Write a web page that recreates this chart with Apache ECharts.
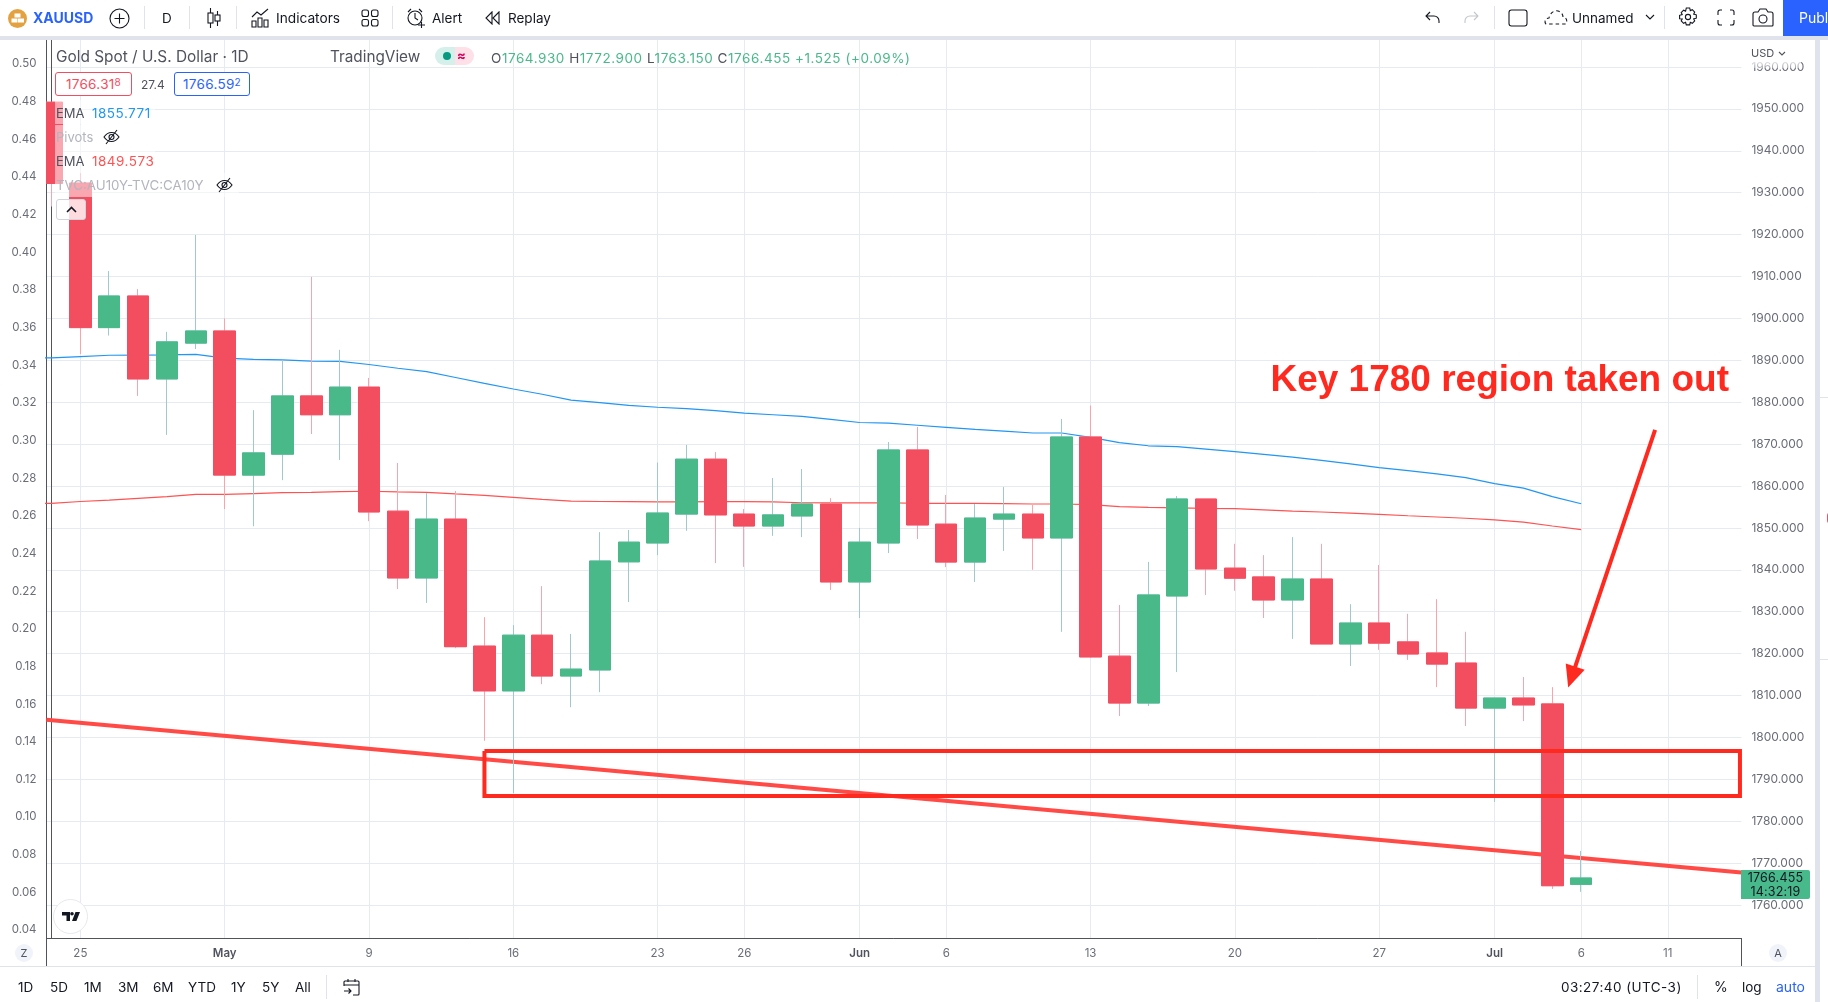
<!DOCTYPE html>
<html>
<head>
<meta charset="utf-8">
<title>XAUUSD</title>
<script src="https://cdn.jsdelivr.net/npm/echarts@6/dist/echarts.min.js"></script>
<style>
  html, body { margin: 0; padding: 0; background: #fff; overflow: hidden; }
  body { width: 1828px; height: 1002px; position: relative; font-family: Inter, "Noto Sans", sans-serif; color: #131722; }
  #chart { position: absolute; left: 0; top: 0; width: 1828px; height: 1002px; }
  .t { position: absolute; white-space: nowrap; transform: translateY(-50%); font-size: 13.5px; line-height: 16px; }
  .b { position: absolute; }
  .sep { position: absolute; width: 1px; background: #e0e3eb; }
  .ic { position: absolute; fill: none; stroke: #131722; stroke-width: 1.1; }
  .row { position: absolute; left: 55px; height: 24px; background: rgba(255,255,255,.5); }
  .g { color: #49b98a; }
  .v { font-size: 13.5px; letter-spacing: .5px; }
  sup { font-size: 10px; line-height: 0; vertical-align: 3px; }
</style>
</head>
<body>
<div id="chart"></div>

<!-- the first candle is cut off by the left axis -->
<div class="b" style="left:38px;top:100px;width:8px;height:86px;background:#fff"></div>

<!-- top toolbar -->
<div class="b" style="left:0;top:36px;width:1828px;height:4px;background:#e0e3eb"></div>
<svg class="ic" style="left:8px;top:9px;stroke:none" width="19" height="19"><circle cx="9.5" cy="9.5" r="9.5" fill="#e3a23f"/><rect x="6.5" y="4.5" width="6" height="4" fill="#fff"/><rect x="3.5" y="9.5" width="6" height="4" fill="#fff"/><rect x="10" y="9.5" width="6" height="4" fill="#fff"/></svg>
<div class="t" style="left:33px;top:18px;color:#2962ff;font-weight:700;font-size:14px">XAUUSD</div>
<svg class="ic" style="left:109px;top:8px" width="21" height="21"><circle cx="10.5" cy="10.5" r="9.5"/><path d="M10.5 5.5v10M5.5 10.5h10"/></svg>
<div class="sep" style="left:144px;top:6px;height:23px"></div>
<div class="t" style="left:162px;top:18px">D</div>
<div class="sep" style="left:189px;top:6px;height:23px"></div>
<svg class="ic" style="left:206px;top:8px" width="16" height="20"><path d="M4.5 0v20M11.5 3v15"/><rect x="2" y="5" width="5" height="10" fill="#fff"/><rect x="9" y="7" width="5" height="6" fill="#fff"/></svg>
<div class="sep" style="left:236px;top:6px;height:23px"></div>
<svg class="ic" style="left:251px;top:8px" width="18" height="20"><path d="M1 9l5-5 4 3 7-6M1 19v-6h4v6zM7 19v-9h4v9zM13 19v-7h4v7z"/></svg>
<div class="t" style="left:276px;top:18px;font-size:13.7px">Indicators</div>
<svg class="ic" style="left:361px;top:9px" width="18" height="18"><rect x="1" y="1" width="6.5" height="6.5" rx="2"/><rect x="10.5" y="1" width="6.5" height="6.5" rx="2"/><rect x="1" y="10.5" width="6.5" height="6.5" rx="2"/><rect x="10.5" y="10.5" width="6.5" height="6.5" rx="2"/></svg>
<div class="sep" style="left:392px;top:6px;height:23px"></div>
<svg class="ic" style="left:406px;top:7px" width="20" height="22"><circle cx="9" cy="11" r="7"/><path d="M9 6v5l3 2M2 5l3-3M16 5l-3-3M12 18h7M15.5 15v6"/></svg>
<div class="t" style="left:432px;top:18px">Alert</div>
<svg class="ic" style="left:485px;top:11px" width="15" height="14"><path d="M7 1L1 7l6 6zM14 1L8 7l6 6z"/></svg>
<div class="t" style="left:508px;top:18px">Replay</div>
<svg class="ic" style="left:1425px;top:11px" width="15" height="13"><path d="M5 1L1 5l4 4M1 5h8a5 5 0 0 1 5 5v2"/></svg>
<svg class="ic" style="left:1464px;top:11px;stroke:#c4c6cc" width="15" height="13"><path d="M10 1l4 4-4 4M14 5H6a5 5 0 0 0-5 5v2"/></svg>
<div class="sep" style="left:1494px;top:6px;height:23px"></div>
<svg class="ic" style="left:1508px;top:9px" width="20" height="18"><rect x="1" y="1" width="18" height="16" rx="2.5"/></svg>
<svg class="ic" style="left:1544px;top:9px" width="24" height="17"><path d="M2 15c-2-2-1-6 3-6 1-5 5-8 9-7 3 1 5 3 5 6 3 0 5 4 3 7z" stroke-dasharray="3.5 3"/></svg>
<div class="t" style="left:1572px;top:18px">Unnamed</div>
<svg class="ic" style="left:1645px;top:14px" width="10" height="7"><path d="M1 1l4 4 4-4"/></svg>
<div class="sep" style="left:1664px;top:6px;height:23px"></div>
<svg class="ic" style="left:1678px;top:7px" width="20" height="20"><circle cx="10" cy="10" r="2.6"/><path d="M8.3 1h3.4l.6 2.6 2-.9 2.4 2.4-1 2 2.6.7v3.4l-2.6.7 1 2-2.4 2.4-2-1-.6 2.6H8.3l-.7-2.6-2 1-2.4-2.4 1-2L1.600 11.700V8.300l2.600-.7-1-2 2.400-2.400 2 .9z"/></svg>
<svg class="ic" style="left:1717px;top:9px" width="18" height="17"><path d="M1 6V3a2 2 0 0 1 2-2h2M13 1h2a2 2 0 0 1 2 2v3M17 11v3a2 2 0 0 1-2 2h-2M5 16H3a2 2 0 0 1-2-2v-3"/></svg>
<svg class="ic" style="left:1752px;top:8px" width="22" height="19"><path d="M1 17V6a2 2 0 0 1 2-2h3l2-3h6l2 3h3a2 2 0 0 1 2 2v11a1 1 0 0 1-1 1H2a1 1 0 0 1-1-1z"/><circle cx="11" cy="11" r="4"/></svg>
<div class="b" style="left:1783px;top:0;width:45px;height:36px;background:#2962ff;overflow:hidden"><div class="t" style="left:16px;top:18px;color:#fff;font-size:14px">Publish</div></div>

<!-- far right panel -->
<div class="b" style="left:1815px;top:36px;width:5px;height:966px;background:#e0e3eb"></div>
<div class="b" style="left:1820px;top:397px;width:8px;height:1px;background:#e0e3eb"></div>
<div class="b" style="left:1820px;top:659px;width:8px;height:1px;background:#e0e3eb"></div>
<div class="b" style="left:1827px;top:512px;width:8px;height:12px;border-radius:6px;background:#f24e60"></div>

<!-- legend -->
<div class="row" style="top:100px;width:100px"></div>
<div class="row" style="top:125px;width:70px"></div>
<div class="row" style="top:149px;width:100px"></div>
<div class="row" style="top:173px;width:184px"></div>
<div class="t" style="left:56px;top:57px;font-size:15.4px;color:#50535e">Gold Spot / U.S. Dollar · 1D</div>
<div class="t" style="left:330px;top:57px;font-size:15.3px;color:#50535e">TradingView</div>
<div class="b" style="left:435px;top:47px;width:20px;height:18px;border-radius:9px 0 0 9px;background:#d5f0ea"><div class="b" style="left:8px;top:5px;width:8px;height:8px;border-radius:4px;background:#089981"></div></div>
<div class="b" style="left:455px;top:47px;width:19px;height:18px;border-radius:0 9px 9px 0;background:#fde0e8;color:#d6005a;font-size:13px;line-height:17px;font-weight:700;text-indent:2px">≈</div>
<div class="t" style="left:491px;top:58px;color:#50535e;letter-spacing:.55px">O<span class="g">1764.930</span> H<span class="g">1772.900</span> L<span class="g">1763.150</span> C<span class="g">1766.455</span> <span class="g">+1.525 (+0.09%)</span></div>
<div class="b" style="left:55px;top:72px;width:75px;height:22px;border:1px solid #f24e60;border-radius:3px;background:#fff;color:#f24e60;font-size:13.5px;letter-spacing:.3px;line-height:22px;text-align:center">1766.31<sup>8</sup></div>
<div class="t" style="left:141px;top:85px;font-size:12px;color:#50535e">27.4</div>
<div class="b" style="left:174px;top:72px;width:74px;height:22px;border:1px solid #2962ff;border-radius:3px;background:#fff;color:#2962ff;font-size:13.5px;letter-spacing:.3px;line-height:22px;text-align:center">1766.59<sup>2</sup></div>
<div class="t" style="left:56px;top:113px;color:#50535e;font-size:13px">EMA</div>
<div class="t v" style="left:92px;top:113px;color:#2196f3">1855.771</div>
<div class="t" style="left:56px;top:137px;color:#b2b5be;font-size:13px">Pivots</div>
<svg class="ic" style="left:103px;top:129px" width="17" height="16"><path d="M1 8c4-6 11-6 15 0-4 6-11 6-15 0zM3 15L14 1"/><circle cx="8.500" cy="8" r="2.500"/></svg>
<div class="t" style="left:56px;top:161px;color:#50535e;font-size:13px">EMA</div>
<div class="t v" style="left:92px;top:161px;color:#ff5252">1849.573</div>
<div class="t" style="left:56px;top:185px;color:#b2b5be;font-size:13.3px">TVC:AU10Y-TVC:CA10Y</div>
<svg class="ic" style="left:216px;top:177px" width="17" height="16"><path d="M1 8c4-6 11-6 15 0-4 6-11 6-15 0zM3 15L14 1"/><circle cx="8.500" cy="8" r="2.500"/></svg>
<div class="b" style="left:56px;top:199px;width:28px;height:19px;border:1px solid #d1d4dc;border-radius:3px;background:rgba(255,255,255,.8)"><svg class="ic" style="left:9px;top:6px;stroke-width:1.6" width="11" height="7"><path d="M1 6l4.500-4.500L10 6"/></svg></div>

<!-- axis furniture -->
<div class="b" style="left:1751px;top:46px;width:50px;height:22px;background:linear-gradient(#fff 60%,rgba(255,255,255,.35))"></div>
<div class="t" style="left:1751px;top:53px;font-size:11px;color:#50535e">USD</div>
<svg class="ic" style="left:1778px;top:51px;stroke:#50535e" width="8" height="5"><path d="M1 1l3 3 3-3"/></svg>
<svg class="b" style="left:53px;top:899px" width="35" height="35"><circle cx="17.500" cy="17.500" r="17" fill="#fff" stroke="#e6e8ec"/><path d="M9 13h8v9h-3.500v-5.500H9zM19 13a1.800 1.800 0 1 1 0 3.600 1.800 1.800 0 0 1 0-3.600zM22.500 13H27l-3.600 9H19z" fill="#131722"/></svg>
<div class="b" style="left:46px;top:938px;width:1px;height:28px;background:#50535e"></div>
<div class="b" style="left:1741px;top:938px;width:1px;height:28px;background:#50535e"></div>
<div class="b" style="left:15px;top:944px;width:18px;height:18px;border-radius:9px;background:#f0f3fa;font-size:11px;line-height:18px;text-align:center;color:#50535e">Z</div>
<div class="b" style="left:1769px;top:944px;width:18px;height:18px;border-radius:9px;background:#f0f3fa;font-size:11px;line-height:18px;text-align:center;color:#50535e">A</div>
<div class="b" style="left:0;top:966px;width:1815px;height:1px;background:#e0e3eb"></div>
<div class="b" style="left:1741px;top:870px;width:69px;height:29px;border-radius:0 2px 2px 0;background:#48b98a;color:#131722;font-size:12.5px;letter-spacing:.2px;line-height:13.500px;text-align:center"><div style="margin-top:1px">1766.455</div><div>14:32:19</div></div>

<!-- bottom bar -->
<div class="t" style="left:18px;top:987px">1D</div>
<div class="t" style="left:50px;top:987px">5D</div>
<div class="t" style="left:84px;top:987px">1M</div>
<div class="t" style="left:118px;top:987px">3M</div>
<div class="t" style="left:153px;top:987px">6M</div>
<div class="t" style="left:188px;top:987px">YTD</div>
<div class="t" style="left:231px;top:987px">1Y</div>
<div class="t" style="left:262px;top:987px">5Y</div>
<div class="t" style="left:295px;top:987px">All</div>
<div class="sep" style="left:326px;top:975px;height:24px"></div>
<svg class="ic" style="left:343px;top:978px" width="17" height="18"><path d="M1 8V4a1 1 0 0 1 1-1h13a1 1 0 0 1 1 1v12a1 1 0 0 1-1 1h-5M1 7h15M5 1v3M12 1v3M1 13h7M5.500 10.500L8 13l-2.500 2.500"/></svg>
<div class="t" style="left:1561px;top:987px;letter-spacing:.45px">03:27:40 (UTC-3)</div>
<div class="sep" style="left:1697px;top:975px;height:24px"></div>
<div class="t" style="left:1714px;top:987px;font-size:14px">%</div>
<div class="t" style="left:1742px;top:987px">log</div>
<div class="t" style="left:1776px;top:987px;color:#2962ff;font-size:14px">auto</div>

<script>
// trading days, Apr 22 to Jul 6 2022 (position in the list = x value)
var dates = ['Apr 22', 'Apr 25', 'Apr 26', 'Apr 27', 'Apr 28', 'Apr 29', 'May 2', 'May 3', 'May 4', 'May 5', 'May 6',
  'May 9', 'May 10', 'May 11', 'May 12', 'May 13', 'May 16', 'May 17', 'May 18', 'May 19', 'May 20',
  'May 23', 'May 24', 'May 25', 'May 26', 'May 27', 'May 30', 'May 31', 'Jun 1', 'Jun 2', 'Jun 3',
  'Jun 6', 'Jun 7', 'Jun 8', 'Jun 9', 'Jun 10', 'Jun 13', 'Jun 14', 'Jun 15', 'Jun 16', 'Jun 17',
  'Jun 20', 'Jun 21', 'Jun 22', 'Jun 23', 'Jun 24', 'Jun 27', 'Jun 28', 'Jun 29', 'Jun 30', 'Jul 1',
  'Jul 4', 'Jul 5', 'Jul 6']
var opens = [1951.6, 1932.3, 1897.8, 1905.35, 1885.55, 1894.1, 1897, 1862.6, 1867.6, 1881.5, 1877,
  1883.6, 1854, 1838.05, 1852.1, 1821.8, 1811.1, 1824.4, 1814.65, 1816.1, 1841.9,
  1846.4, 1853.3, 1866.4, 1853.3, 1850.45, 1852.85, 1855.7, 1837.1, 1846.4, 1868.6,
  1850.9, 1841.85, 1852.1, 1853.3, 1847.6, 1871.7, 1819.4, 1808.2, 1833.75, 1856.9,
  1840.4, 1838.3, 1832.8, 1837.8, 1822.3, 1827.3, 1822.8, 1820.15, 1817.75, 1807,
  1809.4, 1808, 1764.93]
var closes = [1932.2, 1897.8, 1905.35, 1885.55, 1894.4, 1897, 1862.6, 1867.9, 1881.5, 1877, 1883.6,
  1853.8, 1838.05, 1852.1, 1821.65, 1811.1, 1824.4, 1814.65, 1816.3, 1842.1, 1846.6,
  1853.55, 1866.4, 1853.1, 1850.45, 1853.1, 1855.7, 1837.1, 1846.6, 1868.6, 1850.7,
  1841.85, 1852.35, 1853.3, 1847.6, 1871.7, 1819.2, 1808.2, 1834, 1856.9, 1840.2,
  1838, 1832.8, 1837.8, 1822.3, 1827.3, 1822.5, 1819.9, 1817.5, 1807, 1809.4,
  1807.75, 1764.6, 1766.455]
var lows = [1926.7, 1891.5, 1895.9, 1881.5, 1872.2, 1892.7, 1854.5, 1850.4, 1861.4, 1872.4, 1866.2,
  1851.6, 1835.4, 1832.1, 1821.3, 1799.2, 1786.7, 1812.7, 1807.2, 1810.8, 1832.3,
  1843.5, 1849.3, 1841.6, 1840.7, 1848.1, 1847.8, 1835.2, 1828.5, 1844, 1847.35,
  1840.65, 1837.1, 1844.5, 1840, 1825.2, 1819, 1805.1, 1807.5, 1815.6, 1834,
  1835, 1828.5, 1823.5, 1822.3, 1817.05, 1820.9, 1818.5, 1812, 1802.7, 1784.6,
  1803.9, 1763.85, 1763.15]
var highs = [1951.6, 1934.7, 1911.3, 1907, 1896.8, 1919.9, 1900, 1878.1, 1890.1, 1909.9, 1892.5,
  1885.8, 1865.5, 1858.3, 1858.8, 1828.7, 1826.8, 1836.1, 1824.7, 1849, 1849.5,
  1865.6, 1869.8, 1868.1, 1854.5, 1861.9, 1864.05, 1857.1, 1850, 1870.5, 1874.1,
  1857.85, 1855.7, 1859.75, 1855.5, 1876, 1879.2, 1831.6, 1841.9, 1857.6, 1856.9,
  1846.2, 1843.5, 1847.8, 1846.2, 1831.8, 1841.15, 1829.5, 1833, 1825.2, 1809.4,
  1814.4, 1812, 1772.9]
// EMAs carry one extra leading value so the lines reach the left axis
var emaBlue = [1890.55, 1890.6, 1890.9, 1891.2, 1891.25, 1891.3, 1891.4, 1890.5, 1890.2, 1890.1, 1889.8, 1889.75,
  1889, 1888.1, 1887.3, 1885.9, 1884.5, 1883.15, 1881.9, 1880.5, 1879.9, 1879.25,
  1878.8, 1878.45, 1878, 1877.4, 1877, 1876.6, 1875.9, 1875.15, 1875, 1874.5,
  1874, 1873.5, 1873.1, 1872.65, 1872.65, 1871.6, 1870.35, 1869.6, 1869.4, 1868.8,
  1868.2, 1867.55, 1866.9, 1866.1, 1865.3, 1864.4, 1863.65, 1862.9, 1862, 1860.55,
  1859.5, 1857.45, 1855.77]
var emaRed = [1855.7, 1855.87, 1856.3, 1856.65, 1857.05, 1857.45, 1858, 1858, 1858.2, 1858.4, 1858.5, 1858.65,
  1858.75, 1858.6, 1858.5, 1858.1, 1857.75, 1857.3, 1856.8, 1856.4, 1856.3, 1856.25,
  1856.2, 1856.2, 1856.25, 1856.25, 1856.2, 1856, 1855.95, 1855.95, 1856, 1855.85,
  1855.85, 1855.85, 1855.8, 1855.7, 1855.7, 1855.55, 1855.07, 1854.9, 1854.8, 1854.65,
  1854.6, 1854.3, 1854, 1853.8, 1853.55, 1853.25, 1852.9, 1852.6, 1852.3, 1851.9,
  1851.4, 1850.45, 1849.57]

var xTickValues = [1, 6, 11, 16, 21, 24, 28, 31, 36, 41, 46, 50, 53, 56]
var xTickLabels = ['25', 'May', '9', '16', '23', '26', 'Jun', '6', '13', '20', '27', 'Jul', '6', '11']
var priceTicks = [1760, 1770, 1780, 1790, 1800, 1810, 1820, 1830, 1840, 1850, 1860, 1870, 1880, 1890, 1900, 1910, 1920, 1930, 1940, 1950, 1960]
var spreadTicks = [0.04, 0.06, 0.08, 0.10, 0.12, 0.14, 0.16, 0.18, 0.20, 0.22, 0.24, 0.26, 0.28, 0.30, 0.32, 0.34, 0.36, 0.38, 0.40, 0.42, 0.44, 0.46, 0.48, 0.50]

// hand drawn annotations, in axis units
var trendX = [-0.18, 58.55]
var trendY = [1804.2, 1767.75]
var zoneX = [15, 58.5, 58.5, 15, 15]
var zoneY = [1796.75, 1796.75, 1786, 1786, 1796.75]
var arrowFrom = [55.56, 1873.4]
var arrowTo = [52.67, 1814.4]

var green = '#49b98a'
var red = '#f24e60'
var axisColor = '#50535e'
var gridColor = '#e4ebf1'
var labelColor = '#6a6d78'

var wickData = dates.map(function (d, i) {
  return [i, opens[i], closes[i], lows[i], highs[i]]
})
var bodyData = dates.map(function (d, i) {
  return [i, opens[i], closes[i], Math.min(opens[i], closes[i]), Math.max(opens[i], closes[i])]
})

function indexed(xs, ys) {
  return xs.map(function (x, i) {
    return [x, ys[i]]
  })
}
function emaLine(name, values, color) {
  return {
    name: name,
    type: 'line',
    z: 3,
    symbol: 'none',
    lineStyle: {color: color, width: 1.2},
    data: values.map(function (v, i) {
      return [i - 1, v]
    })
  }
}

var chart = echarts.init(document.getElementById('chart'), null, {renderer: 'canvas'})
chart.setOption({
  animation: false,
  backgroundColor: 'transparent',
  grid: {left: 46.4, right: 86.6, top: 40, bottom: 64, containLabel: false},
  xAxis: {
    type: 'value',
    min: -0.177,
    max: 58.55,
    axisLine: {lineStyle: {color: axisColor, width: 1}},
    axisTick: {show: false, customValues: xTickValues},
    axisLabel: {
      customValues: xTickValues,
      margin: 10,
      fontFamily: 'Inter',
      fontSize: 11.5,
      color: labelColor,
      formatter: function (v) {
        var s = xTickLabels[xTickValues.indexOf(v)]
        return /[a-z]/.test(s) ? '{m|' + s + '}' : s
      },
      rich: {m: {fontFamily: 'Inter', fontSize: 11.5, fontWeight: 600, color: axisColor}}
    },
    splitLine: {show: true, lineStyle: {color: gridColor, width: 1}}
  },
  yAxis: [{
    type: 'value',
    position: 'right',
    min: 1752.13,
    max: 1966.44,
    axisLine: {show: true, lineStyle: {color: axisColor, width: 1}},
    axisTick: {show: false, customValues: priceTicks},
    axisLabel: {
      customValues: priceTicks,
      margin: 10,
      padding: [2, 0, 0, 0],
      fontFamily: 'Inter',
      fontSize: 12,
      color: labelColor,
      formatter: function (v) {
        return v.toFixed(3)
      }
    },
    splitLine: {show: true, lineStyle: {color: gridColor, width: 1}}
  }, {
    type: 'value',
    position: 'left',
    min: 0.03575,
    max: 0.51275,
    axisLine: {show: true, lineStyle: {color: axisColor, width: 1}},
    axisTick: {show: false, customValues: spreadTicks},
    axisLabel: {
      customValues: spreadTicks,
      margin: 10,
      padding: [2, 0, 0, 0],
      fontFamily: 'Inter',
      fontSize: 11.5,
      color: labelColor,
      formatter: function (v) {
        return v.toFixed(2)
      }
    },
    splitLine: {show: false}
  }],
  graphic: [{
    type: 'text',
    z: 20,
    style: {
      x: 1729,
      y: 380.5,
      text: 'Key 1780 region taken out',
      fill: '#ff2a1f',
      font: 'bold 37px "Liberation Sans"',
      textAlign: 'right',
      textVerticalAlign: 'middle'
    }
  }],
  series: [
    {
      name: 'Trend',
      type: 'line',
      z: 2,
      symbol: 'none',
      lineStyle: {color: '#ff4a45', width: 4},
      data: indexed(trendX, trendY)
    },
    emaLine('EMA 200', emaBlue, '#2196f3'),
    emaLine('EMA 100', emaRed, '#ff5252'),
    {
      name: 'Wicks',
      type: 'candlestick',
      z: 4,
      barWidth: 22,
      itemStyle: {color: '#9fc9cb', color0: '#f9a3ae', borderColor: '#9fc9cb', borderColor0: '#f9a3ae', borderWidth: 1},
      data: wickData
    },
    {
      name: 'Bodies',
      type: 'candlestick',
      z: 5,
      barWidth: 22,
      itemStyle: {color: green, color0: red, borderColor: green, borderColor0: red, borderWidth: 1},
      data: bodyData
    },
    {
      name: 'Zone',
      type: 'line',
      z: 6,
      symbol: 'none',
      lineStyle: {color: '#ff2a1f', width: 4, join: 'miter'},
      data: indexed(zoneX, zoneY)
    },
    {
      name: 'Arrow',
      type: 'line',
      z: 7,
      symbol: 'none',
      data: [],
      markLine: {
        silent: true,
        animation: false,
        symbol: ['none', 'triangle'],
        symbolSize: [20, 22],
        label: {show: false},
        lineStyle: {color: '#ff2a1f', width: 4, type: 'solid'},
        data: [[{coord: arrowFrom}, {coord: arrowTo}]]
      }
    }
  ]
})
</script>
</body>
</html>
